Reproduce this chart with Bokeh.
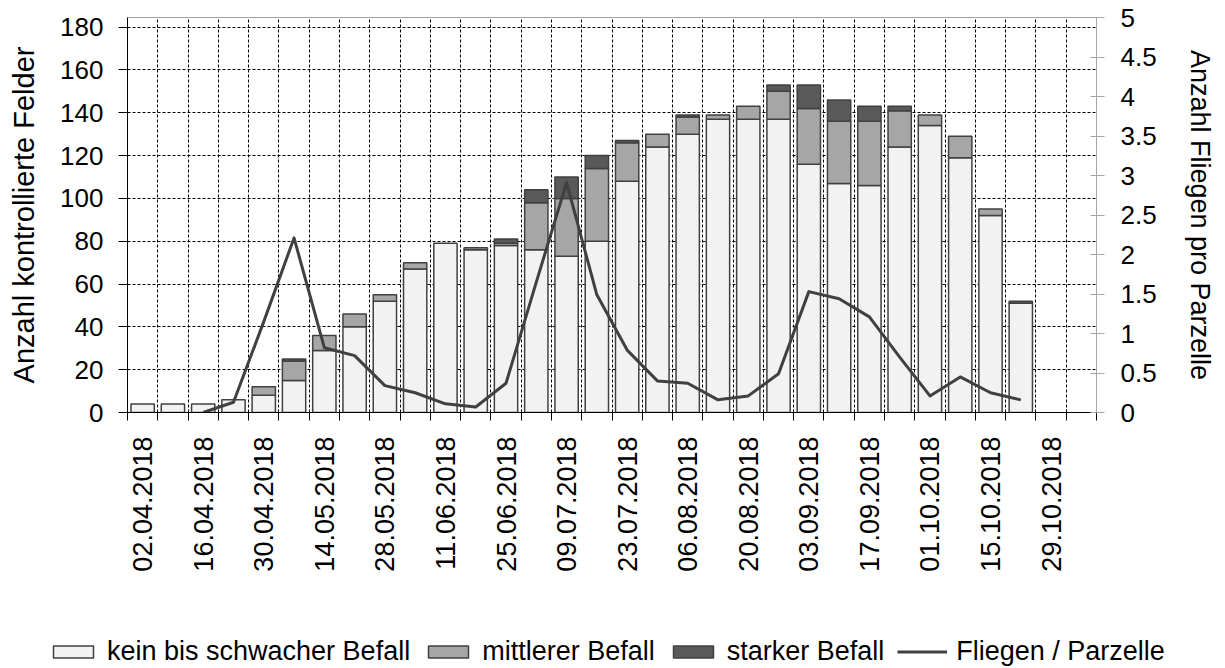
import math
from bokeh.plotting import figure
from bokeh.layouts import column
from bokeh.models import (Range1d, LinearAxis, FixedTicker, NumeralTickFormatter,
                          Legend, LegendItem)
from bokeh.embed import file_html
from bokeh.resources import INLINE

# ---------------- data ----------------
n_weeks = 32
tick_labels = ["02.04.2018", "16.04.2018", "30.04.2018", "14.05.2018", "28.05.2018",
               "11.06.2018", "25.06.2018", "09.07.2018", "23.07.2018", "06.08.2018",
               "20.08.2018", "03.09.2018", "17.09.2018", "01.10.2018", "15.10.2018",
               "29.10.2018"]
kein = [4, 4, 4, 6, 8, 15, 29, 40, 52, 67, 79, 76, 78, 76, 73, 80, 108, 124, 130, 137,
        137, 137, 116, 107, 106, 124, 134, 119, 92, 51, 0, 0]
mittel = [0, 0, 0, 0, 4, 9, 7, 6, 3, 3, 0, 1, 1, 22, 27, 34, 18, 6, 8, 2,
          6, 13, 26, 29, 30, 17, 5, 10, 3, 0, 0, 0]
stark = [0, 0, 0, 0, 0, 1, 0, 0, 0, 0, 0, 0, 2, 6, 10, 6, 1, 0, 1, 0,
         0, 3, 11, 10, 7, 2, 0, 0, 0, 1, 0, 0]
nan = float("nan")
fliegen = [nan, nan, 0.0, 0.13, 1.15, 2.21, 0.82, 0.72, 0.34, 0.25, 0.11, 0.07, 0.37,
           1.65, 2.91, 1.49, 0.79, 0.40, 0.37, 0.16, 0.21, 0.49, 1.53, 1.44, 1.21,
           0.70, 0.21, 0.45, 0.25, 0.16, nan, nan]
series_names = ["kein bis schwacher Befall", "mittlerer Befall", "starker Befall",
                "Fliegen / Parzelle"]
bar_colors = ["#f2f2f2", "#a6a6a6", "#595959"]

FONT = "Liberation Sans"
x_centers = [i + 0.5 for i in range(n_weeks)]

p = figure(frame_width=969, frame_height=395,
           min_border_left=127, min_border_right=129, min_border_top=17,
           min_border_bottom=211,
           x_range=Range1d(0, n_weeks), y_range=Range1d(0, 184.5),
           output_backend="svg", toolbar_location=None)
p.background_fill_color = "white"
p.border_fill_color = "white"
p.outline_line_color = "#a6a6a6"
p.outline_line_width = 1

# x axis: labels at every second category centre, ticks at category boundaries
xticker = FixedTicker(ticks=[0.5 + 2 * i for i in range(len(tick_labels))],
                      minor_ticks=list(range(n_weeks + 1)))
p.xaxis.ticker = xticker
p.xaxis.major_label_overrides = {0.5 + 2 * i: lab for i, lab in enumerate(tick_labels)}
p.xaxis.major_tick_out = 0
p.xaxis.major_tick_in = 0
p.xaxis.minor_tick_out = 8
p.xaxis.minor_tick_in = 0
p.xaxis.minor_tick_line_color = "black"
p.xaxis.axis_line_color = "black"
p.xaxis.major_label_orientation = math.pi / 2
p.xaxis.major_label_standoff = 16
p.xaxis.major_label_text_font = FONT
p.xaxis.major_label_text_font_size = "27px"
p.xaxis.major_label_text_color = "black"

p.xgrid.ticker = xticker
p.xgrid.grid_line_color = None
p.xgrid.minor_grid_line_color = "black"
p.xgrid.minor_grid_line_dash = "3 2"
p.xgrid.minor_grid_line_width = 1

yticker = FixedTicker(ticks=list(range(0, 181, 20)), minor_ticks=[])
p.yaxis.ticker = yticker
p.yaxis.axis_line_color = "black"
p.yaxis.major_tick_line_color = "black"
p.yaxis.major_tick_out = 9
p.yaxis.major_tick_in = 0
p.yaxis.minor_tick_line_color = None
p.yaxis.major_label_standoff = 15
p.yaxis.major_label_text_font = FONT
p.yaxis.major_label_text_font_size = "26px"
p.yaxis.major_label_text_color = "black"
p.yaxis.axis_label = "Anzahl kontrollierte Felder"
p.yaxis.axis_label_text_font = FONT
p.yaxis.axis_label_text_font_size = "29px"
p.yaxis.axis_label_text_font_style = "normal"
p.yaxis.axis_label_text_color = "black"
p.yaxis.axis_label_standoff = 17

p.ygrid.ticker = yticker
p.ygrid.grid_line_color = "black"
p.ygrid.grid_line_dash = "3 2"
p.ygrid.grid_line_width = 1

# right axis
p.extra_y_ranges = {"fl": Range1d(0, 5)}
rax = LinearAxis(y_range_name="fl",
                 ticker=FixedTicker(ticks=[i * 0.5 for i in range(11)], minor_ticks=[]),
                 formatter=NumeralTickFormatter(format="0.[0]"))
rax.axis_line_color = "#a6a6a6"
rax.major_tick_line_color = "#a6a6a6"
rax.major_tick_out = 8
rax.major_tick_in = 6
rax.minor_tick_line_color = None
rax.major_label_standoff = 16
rax.major_label_text_font = FONT
rax.major_label_text_font_size = "26px"
rax.major_label_text_color = "black"
rax.axis_label = "Anzahl Fliegen pro Parzelle"
rax.axis_label_text_font = FONT
rax.axis_label_text_font_size = "27px"
rax.axis_label_text_font_style = "normal"
rax.axis_label_text_color = "black"
rax.axis_label_standoff = 25
p.add_layout(rax, "right")

# stacked bars (zero-height segments are not drawn)
BAR_LINE = "#404040"
base = [0] * n_weeks
for vals, col in zip([kein, mittel, stark], bar_colors):
    xs = [x_centers[i] for i in range(n_weeks) if vals[i] > 0]
    bots = [base[i] for i in range(n_weeks) if vals[i] > 0]
    tops = [base[i] + vals[i] for i in range(n_weeks) if vals[i] > 0]
    p.vbar(x=xs, bottom=bots, top=tops, width=0.77, fill_color=col,
           line_color=BAR_LINE, line_width=1.5)
    base = [base[i] + vals[i] for i in range(n_weeks)]

p.line(x_centers, fliegen, y_range_name="fl", line_color="#404040",
       line_width=3, line_join="round")

# ---------------- legend strip below the chart ----------------
lf = figure(frame_width=1225, frame_height=45, min_border=0,
            x_range=Range1d(0, 1), y_range=Range1d(0, 1),
            output_backend="svg", toolbar_location=None)
lf.axis.visible = False
lf.grid.visible = False
lf.outline_line_color = None
lf.background_fill_color = "white"
lf.border_fill_color = "white"
# legend proxies: one mark each, placed outside the strip's visible range
leg_r = []
for col in bar_colors:
    leg_r.append(lf.vbar(x=[5], bottom=[5], top=[6], width=0.5, fill_color=col,
                         line_color=BAR_LINE, line_width=1.5))
leg_r.append(lf.line(x=[5, 6], y=[5, 6], line_color="#404040", line_width=3))

legend = Legend(items=[LegendItem(label=n, renderers=[r]) for n, r in zip(series_names, leg_r)],
                orientation="horizontal", location=(48, 1),
                glyph_width=50, glyph_height=15, label_standoff=9, spacing=13,
                padding=0, margin=0, border_line_color=None,
                background_fill_alpha=0,
                label_text_font=FONT, label_text_font_size="27px",
                label_text_color="black")
lf.add_layout(legend)

layout = column(p, lf, spacing=0)
open("out.html", "w").write(file_html(layout, INLINE))
